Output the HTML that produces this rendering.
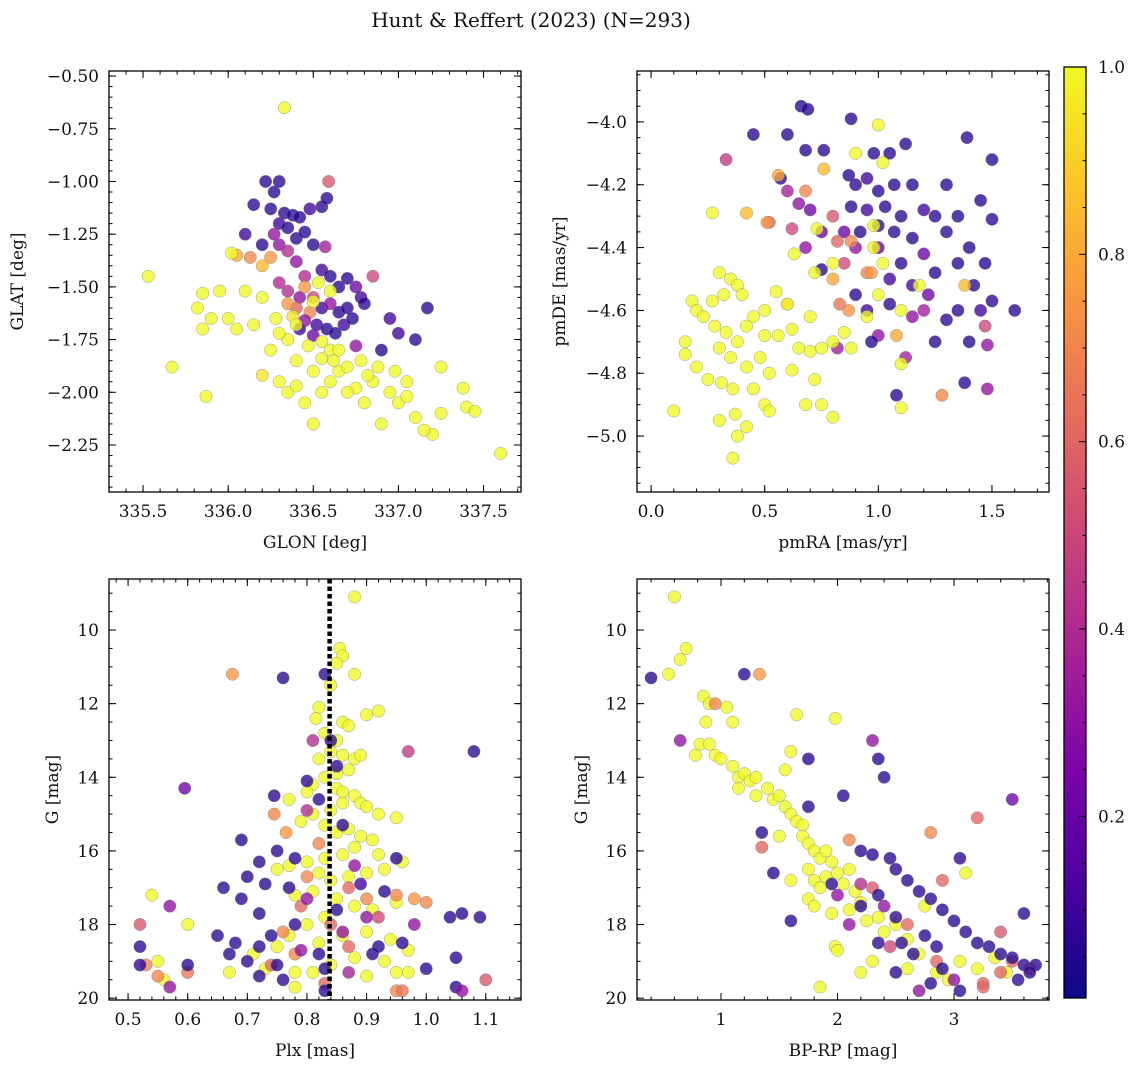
<!DOCTYPE html>
<html><head><meta charset="utf-8"><style>
html,body{margin:0;padding:0;background:#fff;}
svg text{font-family:"DejaVu Serif","Liberation Serif",serif;fill:#111;}
</style></head><body>
<svg id="fig" xmlns="http://www.w3.org/2000/svg" width="1136" height="1067" viewBox="0 0 1136 1067">
<defs>
<linearGradient id="plasma" x1="0" y1="1" x2="0" y2="0">
<stop offset="0" stop-color="#0d0887"/><stop offset="0.125" stop-color="#4c02a1"/><stop offset="0.25" stop-color="#7e03a8"/><stop offset="0.375" stop-color="#a92395"/><stop offset="0.5" stop-color="#cc4778"/><stop offset="0.625" stop-color="#e66c5c"/><stop offset="0.75" stop-color="#f89540"/><stop offset="0.875" stop-color="#fdc527"/><stop offset="1" stop-color="#f0f921"/>
</linearGradient>
</defs>
<text x="531" y="27" font-size="20" text-anchor="middle">Hunt &amp; Reffert (2023) (N=293)</text>
<g id="cbar"></g>
</svg>
<script>
// ---- data: [x, y, membership probability] ----
const posData = [[336.22,-1.0,.05],[336.3,-1.0,.05],[336.27,-1.05,.05],[336.15,-1.11,.05],[336.25,-1.13,.05],[336.33,-1.15,.05],[336.38,-1.16,.05],[336.42,-1.17,.05],[336.48,-1.13,.1],[336.55,-1.12,.05],[336.58,-1.08,.05],[336.3,-1.2,.1],[336.35,-1.22,.05],[336.27,-1.25,.3],[336.4,-1.27,.05],[336.45,-1.24,.05],[336.5,-1.3,.05],[336.57,-1.31,.35],[336.1,-1.25,.1],[336.2,-1.3,.05],[336.59,-1.0,.55],[336.3,-1.3,.3],[336.35,-1.33,.4],[336.25,-1.36,.75],[336.05,-1.35,.8],[336.13,-1.36,.7],[336.2,-1.4,.85],[336.02,-1.34,1],[336.4,-1.38,.3],
[336.45,-1.45,.4],[336.55,-1.42,.1],[336.6,-1.45,.05],[336.65,-1.5,.05],[336.7,-1.46,.05],[336.75,-1.5,.2],[336.78,-1.55,.1],[336.8,-1.58,.05],[336.3,-1.48,.4],[336.35,-1.52,.4],[336.42,-1.55,.3],[336.5,-1.55,.5],[336.55,-1.6,.1],[336.6,-1.58,.3],[336.65,-1.62,.05],[336.7,-1.6,.05],[336.48,-1.62,.7],[336.4,-1.6,.6],[336.45,-1.66,.3],[336.52,-1.68,.1],[336.58,-1.7,.05],[336.63,-1.72,.05],[336.68,-1.68,.1],[336.73,-1.65,.05],[336.5,-1.73,.2],[336.42,-1.7,.1],[336.38,-1.64,.95],[336.35,-1.58,.75],[336.45,-1.5,.75],[336.53,-1.48,1],[336.6,-1.52,1],[336.5,-1.57,1],[336.4,-1.68,1],[336.47,-1.78,1],[336.55,-1.76,1],[336.6,-1.8,1],[336.35,-1.75,1],[336.3,-1.72,1],[336.28,-1.65,1],[336.85,-1.45,.5],[336.95,-1.65,.1],[337.0,-1.72,.1],[337.1,-1.75,.05],[337.17,-1.6,.05],[336.9,-1.8,.05],[336.75,-1.78,.3],
[335.53,-1.45,1],[335.67,-1.88,1],[335.82,-1.6,1],[335.85,-1.7,1],[335.87,-2.02,1],[335.9,-1.65,1],[335.95,-1.52,1],[336.0,-1.65,1],[336.05,-1.7,1],[335.85,-1.53,1],[336.1,-1.52,1],[336.2,-1.55,1],[336.15,-1.68,1],[336.25,-1.8,1],[336.3,-1.95,1],[336.35,-2.0,1],[336.4,-1.97,1],[336.45,-2.05,1],[336.5,-2.15,1],[336.55,-2.0,1],[336.6,-1.95,1],[336.65,-1.9,1],[336.7,-1.88,1],[336.75,-1.98,1],[336.8,-2.05,1],[336.85,-1.95,1],[336.9,-2.15,1],[336.95,-2.0,1],[337.0,-2.05,1],[337.05,-2.02,1],[337.1,-2.12,1],[337.2,-2.2,1],[337.25,-2.1,1],[337.25,-1.88,1],[337.38,-1.98,1],[337.4,-2.07,1],[337.45,-2.09,1],[337.6,-2.29,1],[336.33,-0.65,1],[336.82,-1.92,1],[336.7,-2.0,1],[336.78,-1.85,1],[336.62,-1.85,1],[336.2,-1.92,.95],[336.4,-1.85,1],[336.5,-1.9,1],[336.55,-1.84,1],[336.65,-1.8,1],[337.05,-1.95,1],[336.98,-1.9,1],[336.88,-1.88,1],[337.15,-2.18,1]];
const pmData = [[0.66,-3.95,.05],[0.69,-3.96,.05],[0.88,-3.99,.05],[0.45,-4.04,.05],[0.6,-4.04,.05],[1.12,-4.07,.05],[1.39,-4.05,.05],[0.68,-4.09,.05],[0.76,-4.09,.05],[0.98,-4.1,.05],[1.05,-4.1,.05],[1.5,-4.12,.05],[0.33,-4.12,.45],[0.57,-4.18,.05],[0.87,-4.17,.05],[0.9,-4.2,.05],[0.95,-4.18,.1],[1.0,-4.22,.05],[1.07,-4.2,.05],[1.15,-4.2,.05],[1.3,-4.2,.05],[1.45,-4.25,.05],[0.6,-4.22,.35],[0.65,-4.26,.3],[0.7,-4.28,.2],[0.88,-4.27,.05],[0.95,-4.28,.1],[1.03,-4.27,.05],[1.1,-4.3,.05],[1.2,-4.28,.1],[1.25,-4.3,.05],[1.35,-4.3,.05],[0.52,-4.32,.6],[0.62,-4.34,.5],[0.75,-4.35,.2],[0.8,-4.3,.55],[0.85,-4.35,.2],[0.92,-4.35,.05],[1.0,-4.33,.05],[1.07,-4.35,.05],[1.15,-4.37,.05],[1.3,-4.35,.05],[1.4,-4.4,.05],[1.47,-4.45,.05],[1.5,-4.31,.05],[0.68,-4.4,.3],[0.82,-4.38,.6],[0.9,-4.4,.3],[1.0,-4.4,.2],[1.1,-4.45,.05],[1.2,-4.42,.2],[1.25,-4.48,.05],[1.35,-4.45,.05],[0.75,-4.47,.05],[0.85,-4.45,.5],[0.95,-4.48,.7],[1.05,-4.5,.1],[1.15,-4.52,.1],[1.22,-4.55,.2],[1.42,-4.52,.05],[1.5,-4.57,.05],[1.6,-4.6,.05],[1.35,-4.6,.05],[1.3,-4.63,.05],[1.45,-4.6,.1],[1.05,-4.58,.05],[1.15,-4.62,.3],[1.25,-4.7,.05],[1.4,-4.7,.05],[1.47,-4.65,.5],[1.48,-4.71,.3],[1.48,-4.85,.3],[1.38,-4.83,.05],[1.08,-4.87,.05],[1.12,-4.75,.35],[1.2,-4.6,.35],[0.95,-4.6,.1],[0.9,-4.55,.05],[1.0,-4.68,.3],[0.82,-4.72,.35],[0.97,-4.7,.05],
[0.56,-4.17,.8],[0.68,-4.22,.7],[0.51,-4.32,.75],[0.42,-4.29,.85],[0.8,-4.5,.8],[0.88,-4.38,.7],[1.08,-4.68,.8],[1.28,-4.87,.7],[1.38,-4.52,.85],[0.76,-4.15,.85],[0.87,-4.6,.75],[0.6,-4.58,.8],[0.83,-4.58,.65],[0.97,-4.48,.75],
[1.0,-4.01,1],[0.9,-4.1,1],[1.02,-4.13,1],[0.27,-4.29,1],[0.73,-4.34,1],[0.98,-4.33,1],[0.63,-4.42,1],[0.72,-4.48,1],[0.8,-4.45,1],[0.98,-4.4,1],[1.02,-4.45,1],[0.3,-4.48,1],[0.35,-4.5,1],[0.38,-4.52,1],[0.32,-4.55,1],[0.18,-4.57,1],[0.2,-4.6,1],[0.27,-4.57,1],[0.4,-4.55,1],[0.45,-4.62,1],[0.5,-4.6,1],[0.55,-4.54,1],[0.6,-4.58,1],[0.23,-4.62,1],[0.28,-4.65,1],[0.33,-4.67,1],[0.38,-4.7,1],[0.42,-4.65,1],[0.5,-4.68,1],[0.56,-4.68,1],[0.62,-4.66,1],[0.65,-4.72,1],[0.7,-4.73,1],[0.75,-4.72,1],[0.8,-4.7,1],[0.85,-4.67,1],[0.88,-4.72,1],[0.95,-4.62,1],[1.0,-4.55,1],[1.1,-4.6,1],[1.18,-4.52,1],[1.1,-4.77,1],[1.1,-4.91,1],[0.15,-4.7,1],[0.15,-4.74,1],[0.2,-4.78,1],[0.3,-4.72,1],[0.35,-4.75,1],[0.42,-4.78,1],[0.48,-4.75,1],[0.52,-4.8,1],[0.25,-4.82,1],[0.31,-4.83,1],[0.36,-4.85,1],[0.45,-4.85,1],[0.5,-4.9,1],[0.52,-4.92,1],[0.3,-4.95,1],[0.37,-4.93,1],[0.42,-4.97,1],[0.38,-5.0,1],[0.36,-5.07,1],[0.1,-4.92,1],[0.68,-4.9,1],[0.75,-4.9,1],[0.8,-4.94,1],[0.72,-4.82,1],[0.7,-4.62,1],[0.62,-4.79,1]];
const plxData = [[0.88,9.1,1],[0.855,10.5,1],[0.86,10.7,1],[0.85,10.9,1],[0.88,11.2,1],[0.84,11.5,1],[0.82,12.1,1],[0.815,12.4,1],[0.86,12.5,1],[0.87,12.6,1],[0.9,12.3,1],[0.92,12.2,1],[0.83,12.8,1],[0.85,13.0,1],[0.84,13.3,1],[0.82,13.5,1],[0.86,13.4,1],[0.88,13.5,1],[0.89,13.4,1],[0.87,13.8,1],[0.85,13.9,1],[0.83,14.0,1],[0.81,14.2,1],[0.8,14.4,1],[0.77,14.6,1],[0.85,14.3,1],[0.86,14.4,1],[0.88,14.5,1],[0.89,14.7,1],[0.9,14.8,1],[0.86,14.7,1],[0.84,14.9,1],[0.81,15.0,1],[0.79,15.2,1],[0.83,15.3,1],[0.85,15.5,1],[0.87,15.4,1],[0.89,15.6,1],[0.91,15.7,1],[0.88,15.9,1],[0.86,16.1,1],[0.83,16.2,1],[0.8,16.3,1],[0.77,16.4,1],[0.75,16.5,1],[0.82,16.6,1],[0.84,16.8,1],[0.87,16.7,1],[0.9,16.6,1],[0.93,16.5,1],[0.95,15.1,1],[0.92,15.0,1],[0.81,17.1,1],[0.78,17.2,1],[0.85,17.3,1],[0.88,17.5,1],[0.91,17.6,1],[0.95,17.4,1],[0.83,17.8,1],[0.8,18.0,1],[0.77,18.3,1],[0.75,18.6,1],[0.82,18.5,1],[0.86,18.3,1],[0.9,18.2,1],[0.94,18.4,1],[0.97,18.7,1],[0.88,18.9,1],[0.84,19.1,1],[0.81,19.3,1],[0.78,19.3,1],[0.73,19.2,1],[0.9,19.4,1],[0.93,19.0,1],[0.95,19.3,1],[0.6,18.0,1],[0.55,19.0,1],[0.54,17.2,1],[0.67,19.3,1],[0.78,19.7,1],[0.56,19.5,1],[0.97,19.3,1],[0.92,16.1,1],[0.96,16.3,1],[0.71,18.8,1],
[0.675,11.2,.75],[0.745,15.0,.7],[0.765,15.5,.75],[0.82,15.8,.7],[0.8,16.7,.7],[0.87,17.0,.6],[0.9,17.3,.7],[0.95,17.2,.7],[0.98,17.3,.75],[1.0,17.4,.7],[0.76,18.2,.7],[0.78,18.8,.7],[0.84,18.0,.6],[0.79,17.5,.6],[0.53,19.1,.7],[0.55,19.4,.7],[0.6,19.3,.65],[0.95,19.8,.7],[0.96,19.8,.65],[0.74,19.1,.6],[0.83,19.6,.6],[0.87,18.6,.6],[0.52,18.0,.55],[1.1,19.5,.55],[0.97,13.3,.45],[0.81,13.0,.4],[0.92,17.8,.5],
[0.76,11.3,.05],[0.83,11.2,.05],[0.84,13.0,.05],[0.85,13.7,.05],[0.8,14.1,.05],[0.745,14.5,.05],[0.595,14.3,.2],[0.82,14.6,.05],[0.86,15.3,.05],[0.69,15.7,.05],[0.72,16.3,.05],[0.75,16.0,.05],[0.78,16.2,.05],[0.7,16.7,.05],[0.73,16.9,.05],[0.66,17.0,.05],[0.69,17.3,.05],[0.72,17.7,.05],[0.77,17.0,.05],[0.8,17.3,.3],[0.85,17.6,.05],[0.89,16.9,.1],[0.93,17.1,.05],[0.9,17.8,.3],[0.86,18.2,.3],[0.82,18.8,.05],[0.78,18.0,.05],[0.74,18.3,.05],[0.72,18.6,.05],[0.68,18.5,.05],[0.65,18.3,.05],[0.67,18.8,.05],[0.7,19.0,.05],[0.72,19.4,.05],[0.75,19.1,.05],[0.79,18.7,.3],[0.83,19.2,.05],[0.87,19.3,.35],[0.91,18.8,.05],[0.96,18.5,.05],[1.0,19.2,.05],[1.04,17.8,.05],[1.06,17.7,.05],[1.08,13.3,.05],[1.09,17.8,.05],[1.05,18.9,.05],[1.05,19.7,.05],[1.06,19.8,.3],[0.52,18.6,.05],[0.52,19.1,.05],[0.57,17.5,.3],[0.57,19.7,.3],[0.6,19.1,.05],[0.76,19.5,.05],[0.83,19.8,.05],[0.88,16.4,.3],[0.92,18.6,.05],[0.8,14.9,.4],[0.95,16.2,.05],[0.98,18.0,.3]];
const cmdData = [[0.6,9.1,1],[0.65,10.8,1],[0.7,10.5,1],[0.55,11.2,1],[0.85,11.8,1],[0.9,12.0,1],[1.05,12.1,1],[1.1,12.5,1],[0.87,12.5,1],[0.82,13.1,1],[0.9,13.1,1],[0.95,13.4,1],[0.78,13.4,1],[1.0,13.5,1],[1.1,13.7,1],[1.15,14.0,1],[1.2,13.9,1],[1.25,14.1,1],[1.3,14.0,1],[1.15,14.3,1],[1.3,14.5,1],[1.4,14.3,1],[1.45,14.6,1],[1.5,14.5,1],[1.55,14.8,1],[1.6,15.0,1],[1.65,15.2,1],[1.7,15.3,1],[1.7,15.6,1],[1.75,15.8,1],[1.8,16.0,1],[1.85,16.2,1],[1.9,16.0,1],[1.95,16.3,1],[1.75,16.5,1],[1.8,16.8,1],[1.85,17.0,1],[1.9,16.7,1],[2.0,16.6,1],[2.05,16.9,1],[2.1,16.5,1],[2.15,17.1,1],[2.2,17.4,1],[1.75,17.3,1],[1.8,17.5,1],[1.95,17.7,1],[2.1,17.6,1],[2.25,17.9,1],[2.35,17.8,1],[2.4,18.2,1],[2.5,18.0,1],[1.98,18.6,1],[2.0,18.7,1],[2.3,19.0,1],[2.6,19.2,1],[2.7,18.8,1],[2.85,19.3,1],[2.95,19.5,1],[3.05,19.0,1],[3.2,19.2,1],[3.35,18.9,1],[3.45,19.3,1],[1.85,19.7,1],[1.65,12.3,1],[1.98,12.4,1],[1.6,13.3,1],[1.55,13.8,1],[1.5,15.6,1],[1.6,16.8,1],[2.2,19.3,1],[2.6,18.4,1],[3.1,16.6,1],[2.75,17.5,1],
[1.33,11.2,.75],[0.95,12.0,.7],[1.35,15.9,.6],[2.1,15.7,.7],[2.8,15.5,.7],[3.2,15.1,.6],[2.9,16.8,.6],[3.4,18.2,.55],[3.4,19.3,.6],[3.5,19.0,.6],[2.85,19.0,.6],[2.6,18.0,.6],[2.3,17.0,.55],[3.25,19.6,.6],[2.45,18.6,.5],[3.65,19.2,.65],[3.25,19.7,.6],
[0.4,11.3,.05],[0.65,13.0,.3],[1.2,11.2,.05],[2.3,13.0,.3],[1.75,13.5,.05],[1.75,14.8,.05],[2.05,14.5,.05],[2.4,14.0,.05],[2.35,13.5,.05],[3.5,14.6,.2],[1.45,16.6,.05],[1.6,17.9,.05],[2.2,16.0,.05],[2.3,16.1,.05],[2.45,16.2,.05],[2.5,16.5,.05],[2.6,16.8,.05],[2.7,17.1,.05],[2.8,17.3,.05],[2.9,17.6,.05],[3.0,17.9,.05],[3.1,18.2,.05],[3.2,18.5,.05],[3.3,18.6,.05],[3.4,18.8,.05],[3.5,18.9,.05],[3.6,19.1,.05],[3.7,19.1,.05],[3.65,19.3,.05],[3.55,19.5,.05],[3.6,17.7,.05],[3.05,16.2,.05],[2.2,17.5,.05],[2.35,17.2,.05],[2.4,17.5,.3],[2.5,17.8,.05],[2.55,18.5,.05],[2.65,18.8,.05],[2.75,18.3,.05],[2.85,18.6,.05],[2.9,19.2,.05],[3.0,19.5,.3],[3.05,19.8,.05],[2.8,19.6,.05],[2.7,19.8,.3],[2.5,19.3,.05],[2.35,18.5,.05],[2.1,18.0,.3],[2.0,17.2,.3],[2.2,16.9,.4],[1.95,16.9,.05],[1.35,15.5,.05]];
const tlXTicks = [335.5,336.0,336.5,337.0,337.5];
const tlYTicks = [-0.5,-0.75,-1.0,-1.25,-1.5,-1.75,-2.0,-2.25];
const trXTicks = [0.0,0.5,1.0,1.5];
const trYTicks = [-4.0,-4.2,-4.4,-4.6,-4.8,-5.0];
const blXTicks = [0.5,0.6,0.7,0.8,0.9,1.0,1.1];
const gTicks = [10,12,14,16,18,20];
const brXTicks = [1,2,3];
const cbTicks = [0.2,0.4,0.6,0.8,1.0];
const meanPlx = 0.838;

const NS='http://www.w3.org/2000/svg';
const svg=document.getElementById('fig');
function mk(tag,attrs,parent){const e=document.createElementNS(NS,tag);for(const k in attrs)e.setAttribute(k,attrs[k]);(parent||svg).appendChild(e);return e;}
const stops=[[0,[13,8,135]],[0.125,[76,2,161]],[0.25,[126,3,168]],[0.375,[169,35,149]],[0.5,[204,71,120]],[0.625,[230,108,92]],[0.75,[248,149,64]],[0.875,[253,197,39]],[1,[240,249,33]]];
function plasma(v){v=Math.max(0,Math.min(1,v));for(let i=1;i<stops.length;i++){if(v<=stops[i][0]){const a=stops[i-1],b=stops[i];const t=(v-a[0])/(b[0]-a[0]);const c=a[1].map((x,j)=>Math.round(x+(b[1][j]-x)*t));return `rgb(${c[0]},${c[1]},${c[2]})`;}}return 'rgb(240,249,33)';}

function panel(cfg){
 const g=mk('g',{});
 
 
 const X=v=>cfg.x0+(v-cfg.xmin)/(cfg.xmax-cfg.xmin)*(cfg.x1-cfg.x0);
 const Y=cfg.invert? v=>cfg.y0+(v-cfg.ymin)/(cfg.ymax-cfg.ymin)*(cfg.y1-cfg.y0) : v=>cfg.y1-(v-cfg.ymin)/(cfg.ymax-cfg.ymin)*(cfg.y1-cfg.y0);
 const clip='clip-'+cfg.name;
 const cp=mk('clipPath',{id:clip},g);mk('rect',{x:cfg.x0,y:cfg.y0,width:cfg.x1-cfg.x0,height:cfg.y1-cfg.y0},cp);
 const pts=mk('g',{'clip-path':`url(#${clip})`},g);
 
 
 cfg.data.forEach(d=>{
  const c=mk('circle',{cx:X(d[0]).toFixed(1),cy:Y(d[1]).toFixed(1),r:6.2,fill:plasma(d[2]),'fill-opacity':0.78,stroke:'#777','stroke-width':0.5,'stroke-opacity':0.7},pts);
  
  
 });
 if(cfg.vline!==undefined){
  const l=mk('line',{x1:X(cfg.vline),x2:X(cfg.vline),y1:cfg.y0,y2:cfg.y1,stroke:'#000','stroke-width':4.5,'stroke-dasharray':'4.5,3'},g);
  
  
 }
 const frame=mk('rect',{x:cfg.x0,y:cfg.y0,width:cfg.x1-cfg.x0,height:cfg.y1-cfg.y0,fill:'none',stroke:'#000','stroke-width':1.3},g);
 
 
 const tk=mk('g',{stroke:'#000','stroke-width':1},g);
 const lo=Math.min(cfg.xmin,cfg.xmax),hi=Math.max(cfg.xmin,cfg.xmax);
 for(let v=Math.ceil(lo/cfg.xminor)*cfg.xminor;v<=hi+1e-9;v+=cfg.xminor){const x=X(v);mk('line',{x1:x,x2:x,y1:cfg.y1,y2:cfg.y1-3.5},tk);mk('line',{x1:x,x2:x,y1:cfg.y0,y2:cfg.y0+3.5},tk);}
 const ylo=Math.min(cfg.ymin,cfg.ymax),yhi=Math.max(cfg.ymin,cfg.ymax);
 for(let v=Math.ceil(ylo/cfg.yminor)*cfg.yminor;v<=yhi+1e-9;v+=cfg.yminor){const y=Y(v);mk('line',{x1:cfg.x0,x2:cfg.x0+3.5,y1:y,y2:y},tk);mk('line',{x1:cfg.x1,x2:cfg.x1-3.5,y1:y,y2:y},tk);}
 cfg.xticks.forEach(v=>{const x=X(v);mk('line',{x1:x,x2:x,y1:cfg.y1,y2:cfg.y1-7},tk);mk('line',{x1:x,x2:x,y1:cfg.y0,y2:cfg.y0+7},tk);
  const t=mk('text',{x:x,y:cfg.y1+25,'font-size':17,'text-anchor':'middle'},g);t.textContent=v.toFixed(cfg.xdec);
  });
 cfg.yticks.forEach(v=>{const y=Y(v);mk('line',{x1:cfg.x0,x2:cfg.x0+7,y1:y,y2:y},tk);mk('line',{x1:cfg.x1,x2:cfg.x1-7,y1:y,y2:y},tk);
  const t=mk('text',{x:cfg.x0-10,y:y+6,'font-size':17,'text-anchor':'end'},g);t.textContent=(v<0?'\u2212':'')+Math.abs(v).toFixed(cfg.ydec);
  });
 const xl=mk('text',{x:(cfg.x0+cfg.x1)/2,y:cfg.y1+56,'font-size':17,'text-anchor':'middle'},g);xl.textContent=cfg.xlabel;
 
 const yc=(cfg.y0+cfg.y1)/2;
 const yl=mk('text',{x:cfg.ylx,y:yc,'font-size':17,'text-anchor':'middle',transform:`rotate(-90 ${cfg.ylx} ${yc})`},g);yl.textContent=cfg.ylabel;
 
}
panel({name:'glon-glat-panel',data:posData,x0:109,x1:521,y0:71,y1:492,xmin:335.3,xmax:337.72,ymin:-2.473,ymax:-0.476,xticks:tlXTicks,yticks:tlYTicks,xminor:0.1,yminor:0.05,xdec:1,ydec:2,xlabel:'GLON [deg]',ylabel:'GLAT [deg]',ylx:23});
panel({name:'proper-motion-panel',data:pmData,x0:637,x1:1049,y0:71,y1:492,xmin:-0.062,xmax:1.751,ymin:-5.178,ymax:-3.838,xticks:trXTicks,yticks:trYTicks,xminor:0.1,yminor:0.05,xdec:1,ydec:1,xlabel:'pmRA [mas/yr]',ylabel:'pmDE [mas/yr]',ylx:565});
panel({name:'parallax-mag-panel',data:plxData,x0:109,x1:521,y0:579,y1:1000,xmin:0.468,xmax:1.159,ymin:8.614,ymax:20.05,invert:true,xticks:blXTicks,yticks:gTicks,xminor:0.02,yminor:0.5,xdec:1,ydec:0,xlabel:'Plx [mas]',ylabel:'G [mag]',ylx:58,vline:meanPlx});
panel({name:'cmd-panel',data:cmdData,x0:637,x1:1049,y0:579,y1:1000,xmin:0.279,xmax:3.815,ymin:8.614,ymax:20.05,invert:true,xticks:brXTicks,yticks:gTicks,xminor:0.2,yminor:0.5,xdec:0,ydec:0,xlabel:'BP-RP [mag]',ylabel:'G [mag]',ylx:587});

const cb=document.getElementById('cbar');
const cbY0=67,cbY1=998,cbX0=1064,cbX1=1086,cbMin=0.006,cbMax=1.0;
const CY=v=>cbY1-(v-cbMin)/(cbMax-cbMin)*(cbY1-cbY0);
mk('rect',{x:cbX0,y:cbY0,width:cbX1-cbX0,height:cbY1-cbY0,fill:'url(#plasma)',stroke:'#000','stroke-width':1.3},cb);
for(let v=0.05;v<=1.0001;v+=0.05){const y=CY(v);const major=Math.abs(v*5-Math.round(v*5))<1e-6;mk('line',{x1:cbX1,x2:cbX1-(major?7:3.5),y1:y,y2:y,stroke:'#000','stroke-width':1},cb);}
cbTicks.forEach(v=>{const t=mk('text',{x:cbX1+12,y:CY(v)+6,'font-size':17},cb);t.textContent=v.toFixed(1);
 });
</script>
</body></html>
